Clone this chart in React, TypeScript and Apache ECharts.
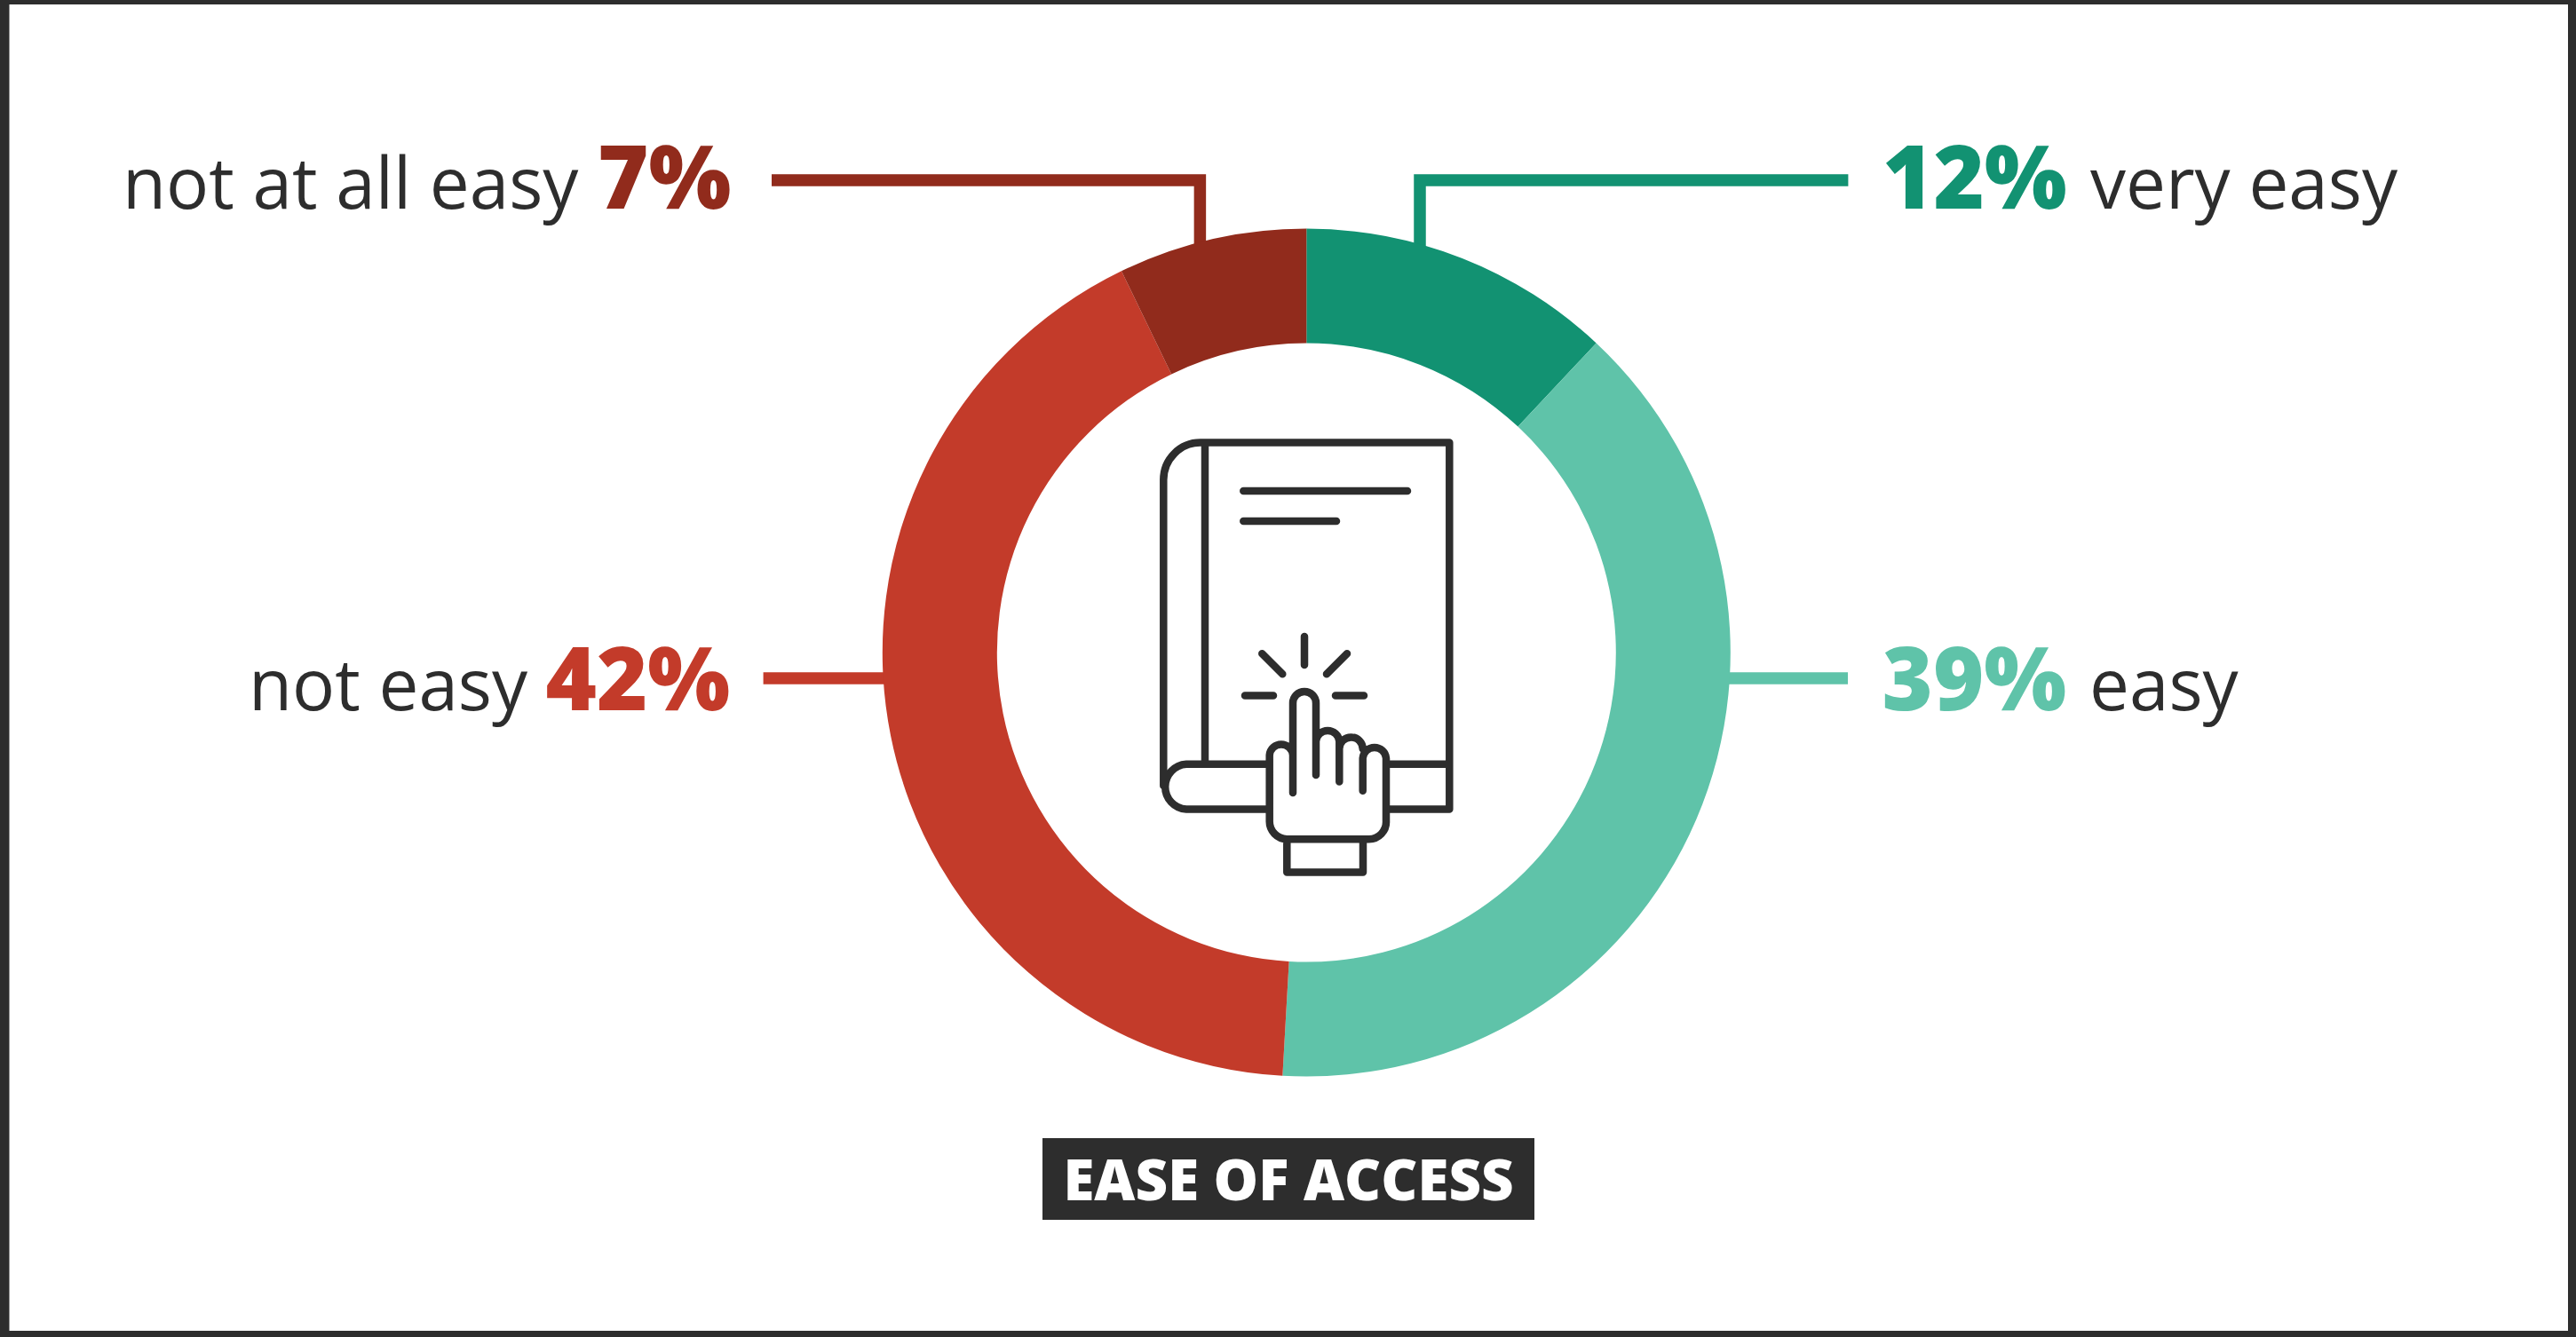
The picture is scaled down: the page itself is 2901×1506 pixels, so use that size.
import React, { useEffect, useRef } from "react";
import * as echarts from "echarts";

const categories = ["very easy", "easy", "not easy", "not at all easy"];
const values = [12, 39, 42, 7.2];
const colors = ["#129272", "#5FC3A9", "#C33B2A", "#912B1C"];
const title = "EASE OF ACCESS";
const DARK = "#2D2D2D";
const FONT = "'Open Sans'";

const iconPath = [
  "M71.7 28.6H352.3V441.5H285",
  "M285 390.8H352.3",
  "M146 441.5H56A25.4 25.4 0 0 1 56 390.8H146",
  "M30.3 415V70.6A41.4 42 0 0 1 71.7 28.6",
  "M77 28.6V390.8",
  "M120.3 83H305",
  "M120.3 117H225",
  "M189 246.9V278.9",
  "M141.3 266.2L164.3 289.3",
  "M237 266.2L214 289.3",
  "M122 313.4H154",
  "M224 313.4H256",
  "M176 422.9V322A13 13 0 0 1 202 322V402.9",
  "M176 380.5A13.2 13.2 0 0 0 149.7 380.5V454.6A20 20 0 0 0 169.3 475.2H261.7A19.5 19.5 0 0 0 281 454.6V384A13.2 13.2 0 0 0 254.7 384V420.8",
  "M202 365A13.2 13.2 0 0 1 228.3 365V410.5",
  "M228.3 373.6A13.2 13.2 0 0 1 254.7 373.6",
  "M169.3 475.2V512.4H255V475.2",
].join(" ");
echarts.graphic.registerShape("bookIcon", echarts.graphic.extendPath(iconPath, {}) as any);

const lineEl = (points: number[][], stroke: string) => ({
  type: "polyline",
  shape: { points },
  style: { stroke, lineWidth: 13.5, fill: "none", lineJoin: "miter", lineCap: "butt" },
});

const textEl = (text: string, x: number, baseline: number, size: number, weight: number, fill: string, scaleX = 1) => ({
  type: "text",
  x,
  y: baseline + 0.112 * size,
  scaleX,
  style: {
    text,
    fontFamily: FONT,
    fontSize: size,
    fontWeight: weight,
    fill,
    align: "left",
    verticalAlign: "bottom",
    textAlign: "left",
    textVerticalAlign: "bottom",
  },
});

const pct = (i: number) => `${Math.round(values[i])}%`;

export default function App() {
  const ref = useRef<HTMLDivElement>(null);
  useEffect(() => {
    const chart = echarts.init(ref.current!, undefined, { renderer: "svg" });
    chart.setOption({
      animation: false,
      backgroundColor: "#fff",
      graphic: {
        elements: [
          { type: "rect", z: -2, shape: { x: 0, y: 0, width: 2901, height: 1506 }, style: { fill: DARK } },
          { type: "rect", z: -2, shape: { x: 10.5, y: 5, width: 2881.5, height: 1494 }, style: { fill: "#fff" } },
          lineEl([[869, 203], [1351.4, 203], [1351.4, 290]], colors[3]),
          lineEl([[2081.4, 203], [1599, 203], [1599, 290]], colors[0]),
          lineEl([[859.6, 764], [1000, 764]], colors[2]),
          lineEl([[2081, 764], [1944, 764]], colors[1]),
          textEl(categories[3], 138, 235, 80, 400, DARK),
          textEl(pct(3), 673, 235, 100, 800, colors[3], 0.98),
          textEl(pct(0), 2120, 235, 100, 800, colors[0], 0.98),
          textEl(categories[0], 2354, 235, 80, 400, DARK),
          textEl(categories[2], 280, 800, 80, 400, DARK),
          textEl(pct(2), 614.5, 800, 100, 800, colors[2], 0.98),
          textEl(pct(1), 2119.5, 800, 100, 800, colors[1], 0.98),
          textEl(categories[1], 2353, 800, 80, 400, DARK),
          { type: "rect", shape: { x: 1174, y: 1282, width: 554, height: 92 }, style: { fill: DARK } },
          textEl(title, 1197.5, 1352.5, 64, 800, "#fff", 0.993),
          {
            type: "bookIcon",
            x: 1280,
            y: 470,
            z: 10,
            style: { fill: "none", stroke: DARK, lineWidth: 8.5, lineCap: "round", lineJoin: "round" },
          },
        ],
      },
      series: [
        {
          type: "pie",
          center: [1471.3, 735],
          radius: [348.5, 477.5],
          startAngle: 90,
          clockwise: true,
          silent: true,
          label: { show: false },
          labelLine: { show: false },
          itemStyle: { borderWidth: 0 },
          data: categories.map((name, i) => ({ name, value: values[i], itemStyle: { color: colors[i] } })),
        },
      ],
    });
    return () => chart.dispose();
  }, []);
  return <div ref={ref} style={{ position: "fixed", left: 0, top: 0, width: 2901, height: 1506 }} />;
}
